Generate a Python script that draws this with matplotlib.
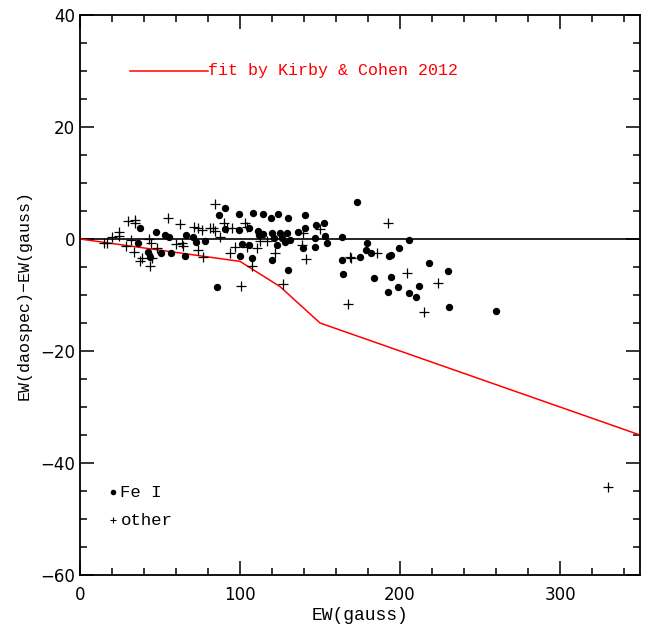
import numpy as np
import matplotlib
matplotlib.use("Agg")
import matplotlib.pyplot as plt
from matplotlib.ticker import MultipleLocator

# Fe I lines: EW(gauss), EW(daospec)-EW(gauss)
fe_x = [37.5, 47.5, 53.1, 55.6, 66.3, 70.6, 72.5, 36.3, 42.5, 43.8, 50.6, 56.9, 65.6,
        90.6, 86.9, 99.4, 108.1, 114.4, 123.8, 140.6, 119.4, 130.0, 105.6, 99.4, 90.6,
        111.3, 120.0, 125.0, 129.4, 140.6, 136.3, 114.4, 78.1, 121.3, 126.3, 131.3,
        123.1, 128.1, 139.4, 101.3, 105.6, 107.5, 100.0, 120.0, 130.0, 85.6, 111.9,
        173.1, 147.5, 152.5, 146.9, 153.1, 163.8, 154.4, 146.9, 205.6, 179.4, 178.8,
        181.9, 175.0, 163.8, 164.4, 193.1, 194.4, 199.4, 218.1, 230.0, 183.8, 194.4,
        192.5, 198.8, 205.6, 210.0, 211.9, 230.6, 260.0]
fe_y = [1.96, 1.25, 0.71, 0.36, 0.71, 0.36, -0.54, -0.71, -2.32, -3.21, -2.5, -2.5, -3.04,
        5.54, 4.29, 4.46, 4.64, 4.46, 4.46, 4.29, 3.75, 3.75, 1.96, 1.61, 1.79,
        1.43, 1.07, 1.07, 1.07, 1.96, 1.25, 0.89, -0.36, 0.18, 0.18, -0.18,
        -1.07, -0.54, -1.61, -0.89, -1.07, -3.39, -3.04, -3.75, -5.54, -8.57, 0.71,
        6.61, 2.5, 2.86, 0.18, 0.54, 0.36, -0.71, -1.43, -0.18, -0.71, -1.96,
        -2.5, -3.21, -3.75, -6.25, -3.04, -2.86, -1.61, -4.29, -5.71, -6.96, -6.79,
        -9.46, -8.57, -9.64, -10.36, -8.39, -12.14, -12.86]

# other species
ot_x = [30.0, 34.4, 34.4, 24.4, 24.4, 20.0, 55.0, 31.9, 15.0, 16.9, 28.8, 43.1, 44.4,
        48.1, 33.8, 38.8, 37.5, 45.0, 43.8, 60.0, 62.5, 71.3, 73.8, 73.8, 84.4, 76.3,
        81.3, 83.1, 84.4, 87.5, 90.0, 91.9, 95.0, 103.1, 104.4, 63.8, 64.4, 76.9,
        93.8, 96.9, 104.4, 110.6, 112.5, 116.9, 121.9, 139.4, 141.3, 107.5, 126.9,
        100.6, 150.0, 138.8, 168.8, 192.5, 185.6, 169.4, 204.4, 223.8, 167.5, 215.0,
        330.0]
ot_y = [3.21, 3.39, 2.86, 1.25, 0.54, 0.36, 3.75, -0.18, -0.71, -0.71, -1.25, 0.0, -0.71,
        -1.61, -2.32, -3.39, -3.93, -3.39, -4.82, -0.89, 2.68, 2.14, 1.96, -1.96, 6.25, 1.61,
        1.96, 1.96, 1.43, 0.36, 2.86, 1.96, 1.96, 2.86, 2.14, -0.71, -1.25, -3.21,
        -2.5, -1.43, -1.43, -1.61, -0.36, -0.36, -2.5, 1.07, -3.57, -4.82, -8.04,
        -8.39, 1.79, -1.07, -3.21, 2.86, -2.5, -3.39, -6.07, -7.86, -11.61, -13.04,
        -44.3]

# Kirby & Cohen 2012 fit
fit_x = [0, 100, 125, 150, 350]
fit_y = [0, -4.0, -8.5, -15.0, -35.0]

plt.rcParams['font.family'] = ['DejaVu Sans']
lab_font = ['Liberation Mono', 'DejaVu Sans Mono']

fig = plt.figure(figsize=(6.52, 6.24), dpi=100)
ax = fig.add_axes([0.1227, 0.0785, 0.8589, 0.8975])

ax.axhline(0, color='black', lw=1.2, zorder=1)
ax.plot(fit_x, fit_y, color='red', lw=1.1, zorder=2)
ax.plot(fe_x, fe_y, 'o', color='black', ms=5.3, mew=0, zorder=3)
ax.plot(ot_x, ot_y, '+', color='black', ms=7, mew=0.9, zorder=3)

# labels drawn inside the box
ax.plot([31.3, 80], [30, 30], color='red', lw=1.1)
ax.text(80, 30, 'fit by Kirby & Cohen 2012', color='red', fontsize=12,
        family=lab_font, va='center', ha='left')
ax.plot([20.6], [-45.2], 'o', color='black', ms=4, mew=0)
ax.text(25.3, -45.2, 'Fe I', fontsize=12.5, family=lab_font, va='center')
ax.plot([20.6], [-50.2], '+', color='black', ms=5, mew=0.8)
ax.text(25.3, -50.2, 'other', fontsize=12.5, family=lab_font, va='center')

ax.set_xlim(0, 350)
ax.set_ylim(-60, 40)
ax.xaxis.set_major_locator(MultipleLocator(100))
ax.xaxis.set_minor_locator(MultipleLocator(20))
ax.yaxis.set_major_locator(MultipleLocator(20))
ax.yaxis.set_minor_locator(MultipleLocator(5))
ax.tick_params(which='both', direction='in', top=True, right=True, width=1.1,
               labelsize=12)
ax.tick_params(which='major', length=10)
ax.tick_params(which='minor', length=5)
ax.tick_params(axis='x', pad=8)
for s in ax.spines.values():
    s.set_linewidth(1.3)

ax.set_xlabel('EW(gauss)', fontsize=13, family=lab_font, labelpad=2)
ax.set_ylabel('EW(daospec)\u2212EW(gauss)', fontsize=12, family=lab_font,
              labelpad=6)

fig.savefig('out.png', dpi=100)
